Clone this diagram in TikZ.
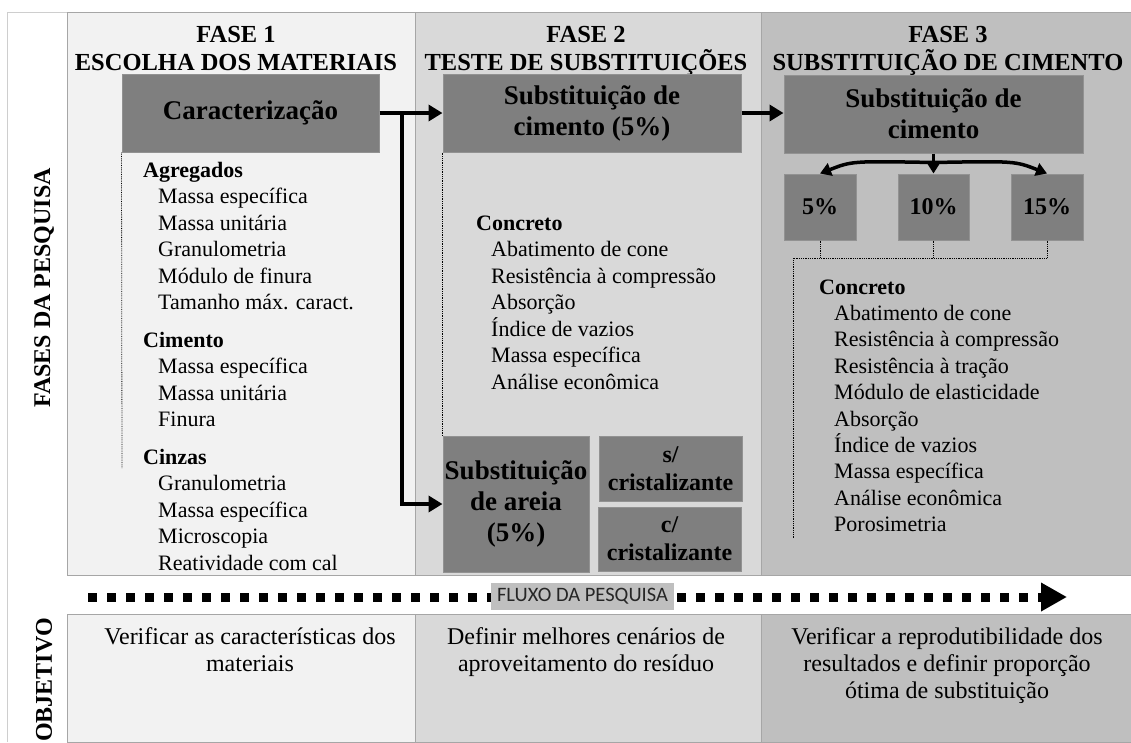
\documentclass[tikz,border=0pt]{standalone}
\usepackage{fontspec}
\setmainfont{Liberation Serif}
\newfontfamily\fluxofont{Carlito}
\usetikzlibrary{calc}
\usetikzlibrary{positioning}
\usetikzlibrary{arrows.meta}

\definecolor{cinzaum}{HTML}{F2F2F2}
\definecolor{cinzadois}{HTML}{D9D9D9}
\definecolor{cinzatres}{HTML}{BFBFBF}
\definecolor{caixacor}{HTML}{7F7F7F}
\definecolor{bordacor}{HTML}{A6A6A6}

\tikzset{
	caixa/.style={fill=caixacor,draw=caixacor!85!white,line width=1pt,inner sep=0pt,align=center,font=\bfseries\fontsize{27}{31}\selectfont},
	caixinha/.style={caixa,font=\bfseries\fontsize{24}{28}\selectfont},
	titulo/.style={anchor=north,inner sep=0pt,align=center,font=\bfseries\fontsize{24.5}{28}\selectfont},
	grupo/.style={anchor=base west,inner sep=0pt,font=\bfseries\fontsize{22}{26}\selectfont},
	item/.style={anchor=base west,inner sep=0pt,font=\fontsize{22}{26}\selectfont},
	objetivo/.style={anchor=north,inner sep=0pt,align=center,font=\fontsize{24}{27}\selectfont},
	lateral/.style={rotate=90,inner sep=0pt,font=\bfseries\fontsize{24}{28}\selectfont},
	seta/.style={line width=4pt,-{Triangle[length=14pt,width=16pt]}},
	setafina/.style={line width=3.5pt,-{Triangle[length=11pt,width=13pt]}},
	ligacao/.style={densely dotted,line width=0.8pt},
}

\begin{document}
\begin{tikzpicture}[x=1pt,y=-1pt]
			\useasboundingbox[fill=white] (0,0) rectangle (1131,742);
			%print frame and phase columns
			\draw[bordacor!55!white,line width=1pt] (7,742)--(7,12)--(1131,12);
			\draw[fill=cinzaum,draw=bordacor] (67,12) rectangle (415,575);
			\draw[fill=cinzadois,draw=bordacor] (415,12) rectangle (761,575);
			\draw[fill=cinzatres,draw=bordacor] (761,12) rectangle (1131,575);
			\draw[fill=cinzaum,draw=bordacor] (67,614) rectangle (415,742);
			\draw[fill=cinzadois,draw=bordacor] (415,614) rectangle (761,742);
			\draw[fill=cinzatres,draw=bordacor] (761,614) rectangle (1131,742);
			\node[lateral] (fases) at (44,288) {FASES DA PESQUISA};
			\node[lateral] (objetivo) at (44,680) {OBJETIVO};
			%phase titles
			\node[titulo] (tituloum) at (236,26) {FASE 1\\ESCOLHA DOS MATERIAIS};
			\node[titulo] (titulodois) at (586,26) {FASE 2\\TESTE DE SUBSTITUIÇÕES};
			\node[titulo] (titulotres) at (948,26) {FASE 3\\SUBSTITUIÇÃO DE CIMENTO};
			%boxes
			\node[caixa,minimum width=257,minimum height=78] (carac) at (250.5,113) {Caracterização};
			\node[caixa,minimum width=298,minimum height=78] (subcim) at (592,113) {Substituição de\\cimento (5\%)};
			\node[caixa,minimum width=299,minimum height=78] (subtres) at (933.5,114) {Substituição de\\cimento};
			\node[caixinha,minimum width=72,minimum height=66] (p5) at (820,207) {5\%};
			\node[caixinha,minimum width=71,minimum height=66] (p10) at (933.5,207) {10\%};
			\node[caixinha,minimum width=72,minimum height=66] (p15) at (1047,207) {15\%};
			\node[caixa,minimum width=146,minimum height=136] (areia) at (516,504) {Substituição\\de areia\\(5\%)};
			\node[caixinha,minimum width=143,minimum height=65] (semcris) at (670.5,468.5) {s/\\cristalizante};
			\node[caixinha,minimum width=143,minimum height=64] (comcris) at (669.5,539) {c/\\cristalizante};
			%arrows between phases
			\coordinate (ramo) at ($(carac.east)!0.36!(subcim.west)$);
			\draw[seta] (carac.east)--(subcim.west);
			\draw[seta] (ramo)|-(areia.west);
			\draw[seta] (subcim.east)--(subcim.east-|subtres.west);
			\coordinate (leque) at ($(subtres.south)+(0,9)$);
			\draw[setafina] (subtres.south)--(p10.north);
			\draw[setafina] (leque) .. controls (852,161) .. (p5.north);
			\draw[setafina] (leque) .. controls (1015,161) .. (p15.north);
			%dotted links to the lists
			\coordinate (fimum) at (122,468);
			\draw[ligacao] (carac.south west)--(fimum);
			\draw[ligacao] (subcim.south west)--(areia.north west);
			\coordinate (juncao) at (793,258);
			\coordinate (fimtres) at (793,538);
			\draw[ligacao] (p5.south)--(p5.south|-juncao);
			\draw[ligacao] (p10.south)--(p10.south|-juncao);
			\draw[ligacao] (p15.south)|-(juncao)--(fimtres);
			%lists of tests
			\node[grupo] (agregados) at (143,177) {Agregados};
			\foreach \txt [count=\i] in {Massa específica,Massa unitária,Granulometria,Módulo de finura,Tamanho máx. caract.}
				\node[item] (agr\i) at (158,177+26.5*\i) {\txt};
			\node[grupo] (cimento) at (143,347) {Cimento};
			\foreach \txt [count=\i] in {Massa específica,Massa unitária,Finura}
				\node[item] (cim\i) at (158,347+26.5*\i) {\txt};
			\node[grupo] (cinzas) at (143,464) {Cinzas};
			\foreach \txt [count=\i] in {Granulometria,Massa específica,Microscopia,Reatividade com cal}
				\node[item] (cin\i) at (158,464+26.5*\i) {\txt};
			\node[grupo] (concdois) at (476,230) {Concreto};
			\foreach \txt [count=\i] in {Abatimento de cone,Resistência à compressão,Absorção,Índice de vazios,Massa específica,Análise econômica}
				\node[item] (cond\i) at (491,230+26.5*\i) {\txt};
			\node[grupo] (conctres) at (819,294) {Concreto};
			\foreach \txt [count=\i] in {Abatimento de cone,Resistência à compressão,Resistência à tração,Módulo de elasticidade,Absorção,Índice de vazios,Massa específica,Análise econômica,Porosimetria}
				\node[item] (cont\i) at (834,294+26.4*\i) {\txt};
			%research flow
			\coordinate (fluxoini) at (88,597);
			\coordinate (fluxofim) at (1067,597);
			\draw[line width=9pt,dash pattern=on 9pt off 10pt,-{Triangle[length=26pt,width=27pt]}] (fluxoini)--(fluxofim);
			\node[fill=cinzatres,inner sep=0pt,minimum width=183,minimum height=27,text=black!85,font=\fluxofont\fontsize{20.5}{24}\selectfont] (fluxo) at (582.5,596.5) {FLUXO DA PESQUISA};
			%objectives
			\node[objetivo] (objum) at (250,627) {Verificar as características dos\\materiais};
			\node[objetivo] (objdois) at (586,627) {Definir melhores cenários de\\aproveitamento do resíduo};
			\node[objetivo] (objtres) at (947,627) {Verificar a reprodutibilidade dos\\resultados e definir proporção\\ótima de substituição};
		\end{tikzpicture}
\end{document}
